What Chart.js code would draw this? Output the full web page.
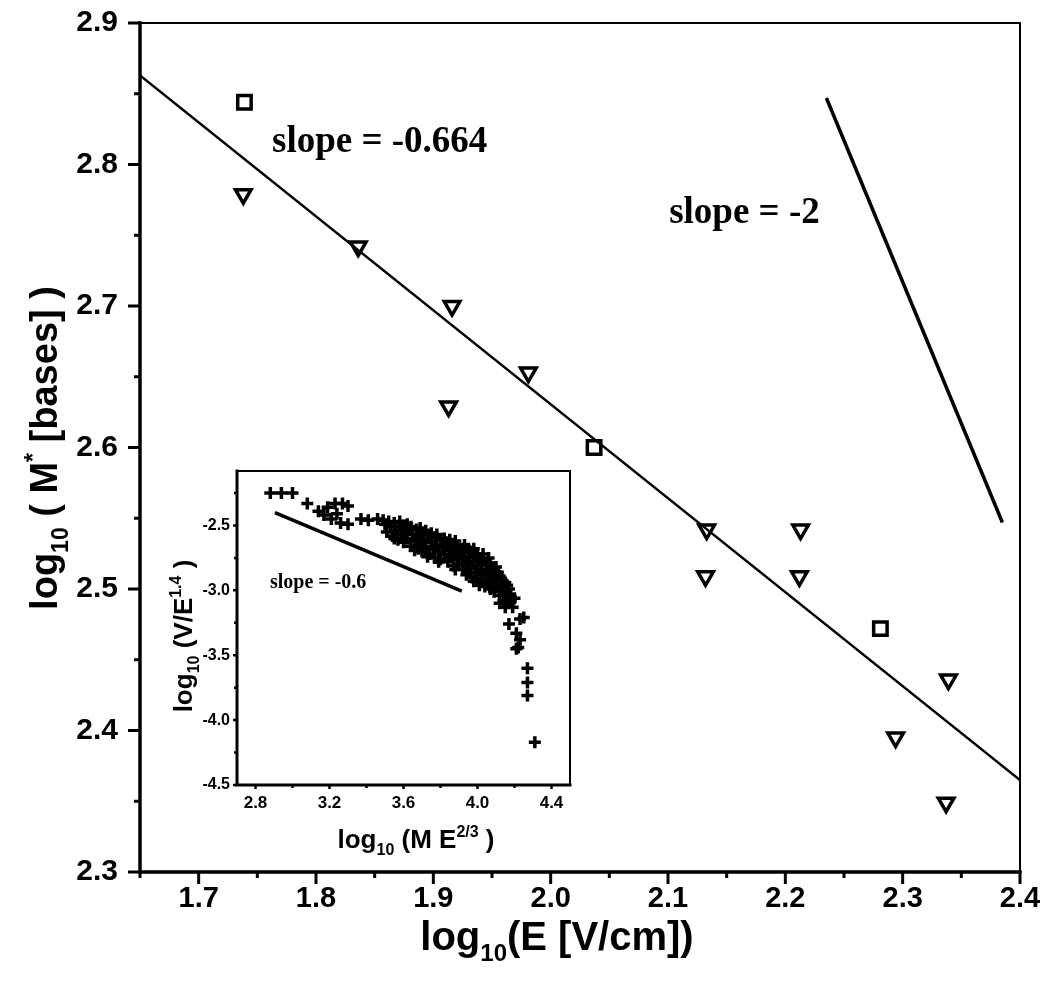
<!DOCTYPE html>
<html>
<head>
  <title>log M* vs log E</title>
  <script src="https://cdn.jsdelivr.net/npm/chart.js"></script>
  <style>
    body { margin: 0; background: #fff; }
    #wrap { position: relative; width: 1040px; height: 983px; }
    #main { position: absolute; left: 0; top: 0; }
    #inset { position: absolute; left: 150px; top: 455px; }
  </style>
</head>
<body>
<div id="wrap">
  <canvas id="main" width="1040" height="983"></canvas>
  <canvas id="inset" width="430" height="420"></canvas>
</div>

<script>
  // main panel data
  const squareX = [1.739, 2.037, 2.281];
  const squareY = [2.844, 2.600, 2.472];
  const triangleX = [1.738, 1.836, 1.916, 1.981, 1.913, 2.133, 2.213, 2.132, 2.212, 2.339, 2.294, 2.337];
  const triangleY = [2.779, 2.742, 2.700, 2.653, 2.629, 2.542, 2.542, 2.509, 2.509, 2.436, 2.395, 2.349];
  const fitX = [1.65, 2.4];
  const fitY = [2.863, 2.365];     // slope -0.664
  const steepX = [2.235, 2.385];
  const steepY = [2.847, 2.547];   // slope -2
  const xTicks = [1.7, 1.8, 1.9, 2.0, 2.1, 2.2, 2.3, 2.4];
  const yTicks = [2.3, 2.4, 2.5, 2.6, 2.7, 2.8, 2.9];
  const xMinor = [1.65, 1.75, 1.85, 1.95, 2.05, 2.15, 2.25, 2.35];
  const yMinor = [2.35, 2.45, 2.55, 2.65, 2.75, 2.85];

  // inset data
  const insetPoints = [
    [2.88,-2.25],[2.94,-2.25],[3.00,-2.25],[3.08,-2.33],
    [3.14,-2.39],[3.19,-2.36],[3.23,-2.33],[3.27,-2.33],[3.30,-2.35],
    [3.17,-2.42],[3.21,-2.45],[3.24,-2.41],[3.26,-2.48],[3.30,-2.49],
    [3.37,-2.45],[3.41,-2.46],[3.46,-2.45],[3.49,-2.46],
    [3.50,-2.49],[3.51,-2.55],[3.53,-2.51],[3.54,-2.58],[3.55,-2.48],[3.56,-2.54],
    [3.57,-2.61],[3.58,-2.51],[3.59,-2.57],[3.60,-2.63],[3.60,-2.50],
    [3.52,-2.47],[3.55,-2.60],[3.58,-2.47],[3.62,-2.49],
    [3.61,-2.55],[3.62,-2.60],[3.63,-2.52],[3.64,-2.66],[3.65,-2.57],[3.66,-2.62],
    [3.67,-2.53],[3.68,-2.68],[3.68,-2.59],[3.69,-2.64],[3.70,-2.56],[3.70,-2.70],
    [3.64,-2.51],[3.66,-2.69],[3.69,-2.52],[3.72,-2.54],
    [3.71,-2.61],[3.72,-2.66],[3.73,-2.57],[3.74,-2.72],[3.75,-2.63],[3.76,-2.68],
    [3.77,-2.59],[3.77,-2.75],[3.78,-2.65],[3.79,-2.70],[3.80,-2.61],[3.80,-2.76],
    [3.73,-2.74],[3.75,-2.56],[3.78,-2.57],[3.79,-2.78],
    [3.81,-2.67],[3.82,-2.72],[3.83,-2.63],[3.84,-2.78],[3.85,-2.69],[3.86,-2.74],
    [3.86,-2.64],[3.87,-2.81],[3.88,-2.70],[3.89,-2.76],[3.89,-2.66],[3.90,-2.80],[3.90,-2.72],
    [3.82,-2.60],[3.84,-2.66],[3.85,-2.61],[3.87,-2.76],[3.88,-2.62],[3.88,-2.84],
    [3.91,-2.68],[3.92,-2.75],[3.92,-2.84],[3.93,-2.71],[3.94,-2.79],[3.94,-2.88],
    [3.95,-2.68],[3.96,-2.74],[3.96,-2.83],[3.97,-2.90],[3.97,-2.70],[3.98,-2.78],
    [3.99,-2.86],[3.99,-2.73],[4.00,-2.81],[4.00,-2.91],
    [3.93,-2.65],[3.95,-2.78],[3.95,-2.86],[3.98,-2.68],[3.98,-2.93],[4.00,-2.72],
    [4.01,-2.75],[4.02,-2.84],[4.02,-2.93],[4.03,-2.78],[4.04,-2.88],[4.04,-2.97],
    [4.05,-2.80],[4.06,-2.85],[4.06,-2.93],[4.07,-2.99],[4.07,-2.79],[4.08,-2.89],
    [4.08,-2.95],[4.09,-2.84],[4.09,-3.01],[4.10,-2.91],
    [4.01,-2.96],[4.03,-2.72],[4.05,-2.95],[4.06,-2.75],[4.10,-2.82],[4.10,-2.97],
    [4.11,-2.86],[4.11,-2.97],[4.12,-3.04],[4.13,-2.92],[4.14,-3.00],[4.14,-3.08],
    [4.15,-2.94],[4.16,-3.03],[4.17,-2.99],[4.17,-3.10],[4.18,-3.05],[4.19,-3.13],
    [4.12,-2.89],[4.13,-2.98],[4.15,-3.01],[4.16,-2.96],
    [4.20,-3.06],[4.12,-3.10],[4.15,-3.13],[4.18,-3.08],[4.23,-3.22],[4.25,-3.21],
    [4.17,-3.26],[4.21,-3.33],[4.23,-3.38],[4.22,-3.44],[4.21,-3.45],
    [4.27,-3.60],[4.27,-3.71],[4.27,-3.81],[4.31,-4.17]
  ];
  const insetFitX = [2.905, 3.915];
  const insetFitY = [-2.40, -3.006];  // slope -0.6
  const insetXTicks = [2.8, 3.2, 3.6, 4.0, 4.4];
  const insetYTicks = [-2.5, -3.0, -3.5, -4.0, -4.5];
  const insetXMinor = [3.0, 3.4, 3.8, 4.2];
  const insetYMinor = [-2.25, -2.75, -3.25, -3.75, -4.25];

  const SANS = '"Liberation Sans", Arial, sans-serif';
  const SERIF = '"Liberation Serif", "Times New Roman", serif';

  function pairs(xs, ys) {
    return xs.map((x, i) => ({x: x, y: ys[i]}));
  }

  // text with sub/superscripts; kind 0 = normal, 1 = sub, 2 = sup
  function drawRich(ctx, parts, x, y, size, rotate) {
    ctx.save();
    ctx.translate(x, y);
    if (rotate) ctx.rotate(-Math.PI / 2);
    const fontFor = k => `bold ${k ? Math.round(size * 0.6) : size}px ${SANS}`;
    let total = 0;
    parts.forEach(([t, k]) => { ctx.font = fontFor(k); total += ctx.measureText(t).width; });
    let cx = -total / 2;
    ctx.textBaseline = 'alphabetic';
    ctx.textAlign = 'left';
    ctx.fillStyle = '#000';
    parts.forEach(([t, k]) => {
      ctx.font = fontFor(k);
      const dy = k === 1 ? size * 0.28 : (k === 2 ? -size * 0.42 : 0);
      ctx.fillText(t, cx, dy);
      cx += ctx.measureText(t).width;
    });
    ctx.restore();
  }

  // frame, tick marks, axis titles and notes
  const decor = {
    id: 'decor',
    afterDraw(chart, args, o) {
      const {ctx, chartArea: a, scales: {x, y}} = chart;
      ctx.save();
      ctx.strokeStyle = '#000';
      ctx.lineCap = 'square';

      ctx.lineWidth = o.thin;
      ctx.beginPath();
      ctx.moveTo(a.left, a.top); ctx.lineTo(a.right, a.top);
      ctx.moveTo(a.right, a.top); ctx.lineTo(a.right, a.bottom);
      ctx.stroke();
      ctx.lineWidth = o.thick;
      ctx.beginPath();
      ctx.moveTo(a.left, a.top); ctx.lineTo(a.left, a.bottom);
      ctx.lineTo(a.right, a.bottom);
      ctx.stroke();

      ctx.lineCap = 'butt';
      ctx.lineWidth = o.tickWidth;
      ctx.beginPath();
      o.xMajor.forEach(v => { const p = x.getPixelForValue(v); ctx.moveTo(p, a.bottom); ctx.lineTo(p, a.bottom + o.major); });
      o.xMinor.forEach(v => { const p = x.getPixelForValue(v); ctx.moveTo(p, a.bottom); ctx.lineTo(p, a.bottom + o.minor); });
      o.yMajor.forEach(v => { const p = y.getPixelForValue(v); ctx.moveTo(a.left, p); ctx.lineTo(a.left - o.major, p); });
      o.yMinor.forEach(v => { const p = y.getPixelForValue(v); ctx.moveTo(a.left, p); ctx.lineTo(a.left - o.minor, p); });
      ctx.stroke();

      o.titles.forEach(t => drawRich(ctx, t.parts, t.x, t.y, t.size, t.rotate));

      ctx.fillStyle = '#000';
      ctx.textAlign = 'left';
      ctx.textBaseline = 'alphabetic';
      o.notes.forEach(n => {
        ctx.font = `bold ${n.size}px ${SERIF}`;
        ctx.fillText(n.text, x.getPixelForValue(n.x), y.getPixelForValue(n.y));
      });
      ctx.restore();
    }
  };

  // fixed-size axis; label overhang is covered by layout padding
  function axis(min, max, ticks, font, padding, size, horizontal) {
    return {
      type: 'linear',
      min: min,
      max: max,
      afterBuildTicks: s => { s.ticks = ticks.map(v => ({value: v})); },
      afterFit: s => {
        if (horizontal) s.height = size; else s.width = size;
        s.paddingTop = s.paddingBottom = s.paddingLeft = s.paddingRight = 0;
      },
      grid: {display: false, drawTicks: false},
      border: {display: false},
      ticks: {
        color: '#000',
        font: font,
        padding: padding,
        maxRotation: 0,
        autoSkip: false,
        callback: v => v.toFixed(1)
      }
    };
  }

  new Chart(document.getElementById('main'), {
    type: 'scatter',
    data: {
      datasets: [
        {
          data: pairs(fitX, fitY),
          showLine: true,
          borderColor: '#000',
          borderWidth: 2.5,
          pointRadius: 0
        },
        {
          data: pairs(steepX, steepY),
          showLine: true,
          borderColor: '#000',
          borderWidth: 3.5,
          pointRadius: 0
        },
        {
          data: pairs(triangleX, triangleY),
          pointStyle: 'triangle',
          pointRotation: 180,
          pointRadius: 9,
          pointBorderWidth: 3.5,
          pointBorderColor: '#000',
          pointBackgroundColor: 'rgba(0,0,0,0)'
        },
        {
          data: pairs(squareX, squareY),
          pointStyle: 'rect',
          pointRadius: 9.5,
          pointBorderWidth: 3.5,
          pointBorderColor: '#000',
          pointBackgroundColor: 'rgba(0,0,0,0)'
        }
      ]
    },
    options: {
      responsive: false,
      animation: false,
      events: [],
      layout: {padding: {left: 0, top: 23, right: 20, bottom: 0}},
      scales: {
        x: axis(1.65, 2.4, xTicks, {family: SANS, weight: 'bold', size: 29}, 10, 111, true),
        y: axis(2.3, 2.9, yTicks, {family: SANS, weight: 'bold', size: 30}, 22, 140, false)
      },
      plugins: {
        legend: {display: false},
        tooltip: {enabled: false},
        decor: {
          thin: 2, thick: 3.5, tickWidth: 3, major: 12, minor: 6,
          xMajor: xTicks, xMinor: xMinor, yMajor: yTicks, yMinor: yMinor,
          titles: [
            {parts: [['log', 0], ['10', 1], ['(E [V/cm])', 0]], x: 557, y: 950, size: 40},
            {parts: [['log', 0], ['10', 1], [' ( M', 0], ['*', 2], [' [bases] )', 0]], x: 57, y: 448, size: 38, rotate: true}
          ],
          notes: [
            {text: 'slope = -0.664', x: 1.7625, y: 2.809, size: 37},
            {text: 'slope = -2', x: 2.101, y: 2.759, size: 37}
          ]
        }
      }
    },
    plugins: [decor]
  });

  new Chart(document.getElementById('inset'), {
    type: 'scatter',
    data: {
      datasets: [
        {
          data: pairs(insetFitX, insetFitY),
          showLine: true,
          borderColor: '#000',
          borderWidth: 3.5,
          pointRadius: 0
        },
        {
          data: insetPoints.map(p => ({x: p[0], y: p[1]})),
          pointStyle: 'cross',
          pointRadius: 6,
          pointBorderWidth: 3.5,
          pointBorderColor: '#000'
        }
      ]
    },
    options: {
      responsive: false,
      animation: false,
      events: [],
      layout: {padding: {left: 0, top: 16, right: 10, bottom: 0}},
      scales: {
        x: axis(2.7, 4.5, insetXTicks, {family: SANS, weight: 'bold', size: 17}, 8, 90, true),
        y: axis(-4.5, -2.08, insetYTicks, {family: SANS, weight: 'bold', size: 16}, 7, 87, false)
      },
      plugins: {
        legend: {display: false},
        tooltip: {enabled: false},
        decor: {
          thin: 2, thick: 3, tickWidth: 2.5, major: 4, minor: 3,
          xMajor: insetXTicks, xMinor: insetXMinor, yMajor: insetYTicks, yMinor: insetYMinor,
          titles: [
            {parts: [['log', 0], ['10', 1], [' (M E', 0], ['2/3', 2], [' )', 0]], x: 266, y: 393, size: 26},
            {parts: [['log', 0], ['10', 1], [' (V/E', 0], ['1.4', 2], [' )', 0]], x: 42, y: 181, size: 26, rotate: true}
          ],
          notes: [
            {text: 'slope = -0.6', x: 2.878, y: -2.985, size: 20}
          ]
        }
      }
    },
    plugins: [decor]
  });
</script>
</body>
</html>
